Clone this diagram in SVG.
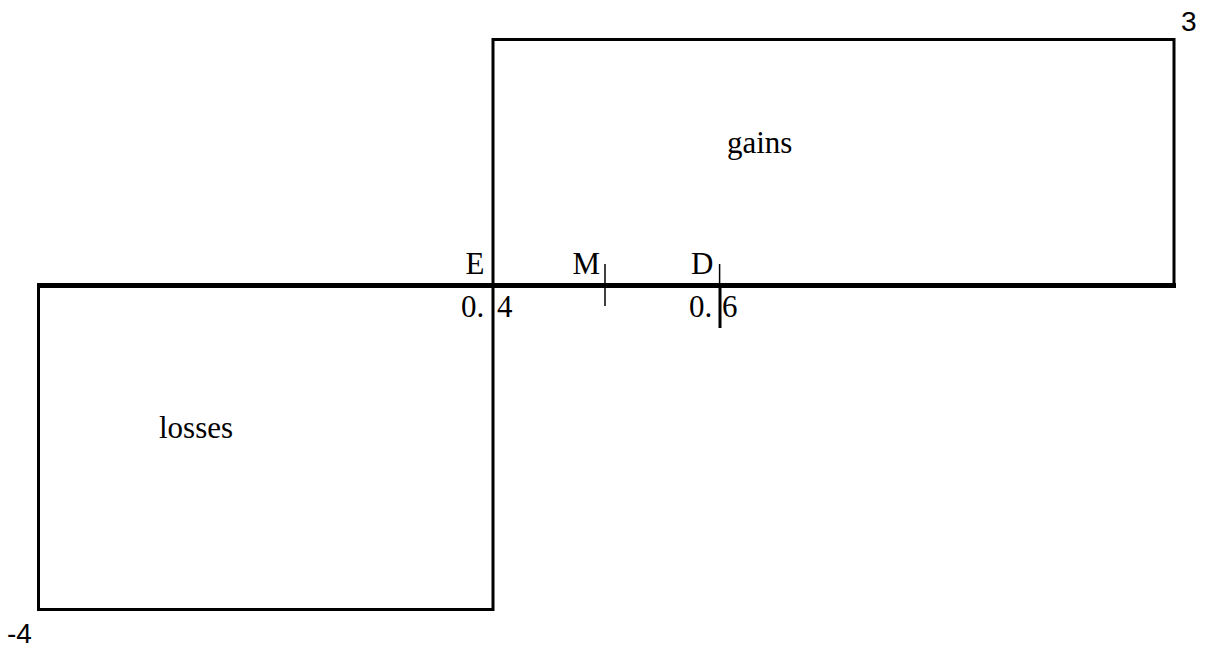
<svg xmlns="http://www.w3.org/2000/svg" width="1209" height="649" viewBox="0 0 1209 649">
<style>
.box{fill:none;stroke:#000;stroke-width:3;stroke-linecap:square}
.axis{stroke:#000;stroke-width:5}
.thin{stroke:#000;stroke-width:1.5}
.mid{stroke:#000;stroke-width:3}
.serif{font-family:"Liberation Serif","Times New Roman",serif;font-size:31px;fill:#000}
.sans{font-family:"Liberation Sans",Arial,sans-serif;font-size:28px;fill:#000}
</style>
<rect width="1209" height="649" fill="#fff"/>
<g id="gains">
<polyline class="box" points="493,285 493,39.5 1174,39.5 1174,285"/>
<text class="serif" x="727" y="153">gains</text>
</g>
<g id="losses">
<polyline class="box" points="38.5,285 38.5,609.5 493,609.5 493,285"/>
<text class="serif" x="159" y="438">losses</text>
</g>
<g id="connectors">
<line class="axis" x1="37" y1="285.5" x2="1176" y2="285.5"/>
<line class="thin" x1="605" y1="264" x2="605" y2="306"/>
<line class="thin" x1="719.6" y1="264" x2="719.6" y2="286"/>
<line class="mid" x1="720" y1="285" x2="720" y2="328"/>
</g>
<g id="labels">
<text class="serif" x="465.5" y="274">E</text>
<text class="serif" x="572.5" y="274">M</text>
<text class="serif" x="691" y="274">D</text>
<text class="serif" x="461" y="317">0.</text>
<text class="serif" x="497" y="317">4</text>
<text class="serif" x="689" y="317">0.</text>
<text class="serif" x="722" y="317">6</text>
<text class="sans" x="1181" y="31">3</text>
<text class="sans" x="7" y="643">-4</text>
</g>
</svg>
